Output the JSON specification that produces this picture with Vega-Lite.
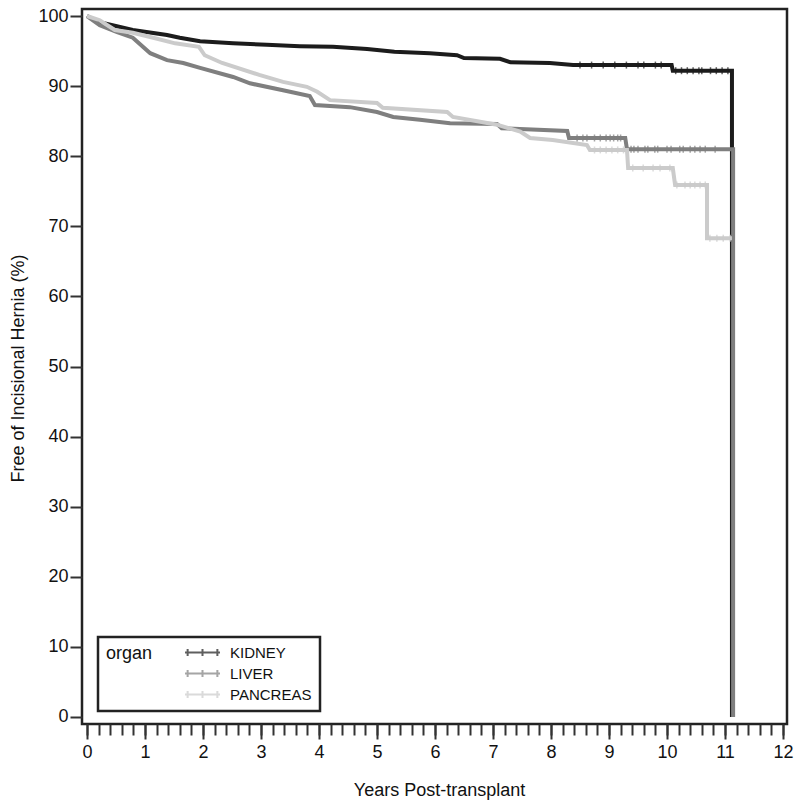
{
  "$schema": "https://vega.github.io/schema/vega-lite/v6.json",
  "autosize": "none",
  "width": 705,
  "height": 715,
  "padding": {"left": 82, "top": 9, "right": 13, "bottom": 83},
  "background": "white",
  "datasets": {
    "curves": [
      {"organ": "KIDNEY", "i": 1, "years": 0, "pct": 100},
      {"organ": "KIDNEY", "i": 2, "years": 0.22, "pct": 99.1},
      {"organ": "KIDNEY", "i": 3, "years": 0.79, "pct": 98.0},
      {"organ": "KIDNEY", "i": 4, "years": 1.38, "pct": 97.3},
      {"organ": "KIDNEY", "i": 5, "years": 1.6, "pct": 96.9},
      {"organ": "KIDNEY", "i": 6, "years": 1.95, "pct": 96.4},
      {"organ": "KIDNEY", "i": 7, "years": 2.52, "pct": 96.1},
      {"organ": "KIDNEY", "i": 8, "years": 3.1, "pct": 95.9},
      {"organ": "KIDNEY", "i": 9, "years": 3.67, "pct": 95.7},
      {"organ": "KIDNEY", "i": 10, "years": 4.24, "pct": 95.6},
      {"organ": "KIDNEY", "i": 11, "years": 4.83, "pct": 95.3},
      {"organ": "KIDNEY", "i": 12, "years": 5.3, "pct": 94.9},
      {"organ": "KIDNEY", "i": 13, "years": 5.91, "pct": 94.7},
      {"organ": "KIDNEY", "i": 14, "years": 6.38, "pct": 94.4},
      {"organ": "KIDNEY", "i": 15, "years": 6.5, "pct": 94.0},
      {"organ": "KIDNEY", "i": 16, "years": 7.12, "pct": 93.9},
      {"organ": "KIDNEY", "i": 17, "years": 7.3, "pct": 93.4},
      {"organ": "KIDNEY", "i": 18, "years": 7.98, "pct": 93.3},
      {"organ": "KIDNEY", "i": 19, "years": 8.38, "pct": 93.0},
      {"organ": "KIDNEY", "i": 20, "years": 10.08, "pct": 93.0},
      {"organ": "KIDNEY", "i": 21, "years": 10.1, "pct": 92.2},
      {"organ": "KIDNEY", "i": 22, "years": 11.12, "pct": 92.2},
      {"organ": "KIDNEY", "i": 23, "years": 11.12, "pct": 0},
      {"organ": "LIVER", "i": 1, "years": 0, "pct": 100},
      {"organ": "LIVER", "i": 2, "years": 0.22, "pct": 98.7},
      {"organ": "LIVER", "i": 3, "years": 0.52, "pct": 97.7},
      {"organ": "LIVER", "i": 4, "years": 0.79, "pct": 96.9},
      {"organ": "LIVER", "i": 5, "years": 1.09, "pct": 94.7},
      {"organ": "LIVER", "i": 6, "years": 1.38, "pct": 93.7},
      {"organ": "LIVER", "i": 7, "years": 1.66, "pct": 93.3},
      {"organ": "LIVER", "i": 8, "years": 1.95, "pct": 92.6},
      {"organ": "LIVER", "i": 9, "years": 2.52, "pct": 91.3},
      {"organ": "LIVER", "i": 10, "years": 2.81, "pct": 90.4},
      {"organ": "LIVER", "i": 11, "years": 3.38, "pct": 89.4},
      {"organ": "LIVER", "i": 12, "years": 3.84, "pct": 88.6},
      {"organ": "LIVER", "i": 13, "years": 3.93, "pct": 87.3},
      {"organ": "LIVER", "i": 14, "years": 4.53, "pct": 87.0},
      {"organ": "LIVER", "i": 15, "years": 5.0, "pct": 86.3},
      {"organ": "LIVER", "i": 16, "years": 5.28, "pct": 85.6},
      {"organ": "LIVER", "i": 17, "years": 5.74, "pct": 85.2},
      {"organ": "LIVER", "i": 18, "years": 6.26, "pct": 84.7},
      {"organ": "LIVER", "i": 19, "years": 7.07, "pct": 84.6},
      {"organ": "LIVER", "i": 20, "years": 7.15, "pct": 84.0},
      {"organ": "LIVER", "i": 21, "years": 8.28, "pct": 83.6},
      {"organ": "LIVER", "i": 22, "years": 8.31, "pct": 82.6},
      {"organ": "LIVER", "i": 23, "years": 9.28, "pct": 82.6},
      {"organ": "LIVER", "i": 24, "years": 9.31, "pct": 81.0},
      {"organ": "LIVER", "i": 25, "years": 11.14, "pct": 81.0},
      {"organ": "LIVER", "i": 26, "years": 11.14, "pct": 0},
      {"organ": "PANCREAS", "i": 1, "years": 0, "pct": 100},
      {"organ": "PANCREAS", "i": 2, "years": 0.22, "pct": 99.4},
      {"organ": "PANCREAS", "i": 3, "years": 0.48, "pct": 98.0},
      {"organ": "PANCREAS", "i": 4, "years": 0.79, "pct": 97.6},
      {"organ": "PANCREAS", "i": 5, "years": 1.09, "pct": 97.0},
      {"organ": "PANCREAS", "i": 6, "years": 1.52, "pct": 96.1},
      {"organ": "PANCREAS", "i": 7, "years": 1.93, "pct": 95.6},
      {"organ": "PANCREAS", "i": 8, "years": 2.03, "pct": 94.4},
      {"organ": "PANCREAS", "i": 9, "years": 2.33, "pct": 93.3},
      {"organ": "PANCREAS", "i": 10, "years": 2.97, "pct": 91.6},
      {"organ": "PANCREAS", "i": 11, "years": 3.38, "pct": 90.6},
      {"organ": "PANCREAS", "i": 12, "years": 3.79, "pct": 89.9},
      {"organ": "PANCREAS", "i": 13, "years": 3.97, "pct": 89.2},
      {"organ": "PANCREAS", "i": 14, "years": 4.19, "pct": 88.0},
      {"organ": "PANCREAS", "i": 15, "years": 5.0, "pct": 87.6},
      {"organ": "PANCREAS", "i": 16, "years": 5.1, "pct": 86.9},
      {"organ": "PANCREAS", "i": 17, "years": 6.21, "pct": 86.3},
      {"organ": "PANCREAS", "i": 18, "years": 6.31, "pct": 85.6},
      {"organ": "PANCREAS", "i": 19, "years": 7.07, "pct": 84.5},
      {"organ": "PANCREAS", "i": 20, "years": 7.47, "pct": 83.5},
      {"organ": "PANCREAS", "i": 21, "years": 7.64, "pct": 82.6},
      {"organ": "PANCREAS", "i": 22, "years": 8.03, "pct": 82.3},
      {"organ": "PANCREAS", "i": 23, "years": 8.62, "pct": 81.6},
      {"organ": "PANCREAS", "i": 24, "years": 8.67, "pct": 80.9},
      {"organ": "PANCREAS", "i": 25, "years": 9.31, "pct": 80.9},
      {"organ": "PANCREAS", "i": 26, "years": 9.33, "pct": 78.3},
      {"organ": "PANCREAS", "i": 27, "years": 10.1, "pct": 78.3},
      {"organ": "PANCREAS", "i": 28, "years": 10.14, "pct": 75.9},
      {"organ": "PANCREAS", "i": 29, "years": 10.69, "pct": 75.9},
      {"organ": "PANCREAS", "i": 30, "years": 10.69, "pct": 68.3},
      {"organ": "PANCREAS", "i": 31, "years": 11.12, "pct": 68.3}
    ],
    "censor": [
      {"organ": "KIDNEY", "years": 8.5, "pct": 93.0},
      {"organ": "KIDNEY", "years": 8.7, "pct": 93.0},
      {"organ": "KIDNEY", "years": 8.9, "pct": 93.0},
      {"organ": "KIDNEY", "years": 9.1, "pct": 93.0},
      {"organ": "KIDNEY", "years": 9.3, "pct": 93.0},
      {"organ": "KIDNEY", "years": 9.5, "pct": 93.0},
      {"organ": "KIDNEY", "years": 9.6, "pct": 93.0},
      {"organ": "KIDNEY", "years": 9.8, "pct": 93.0},
      {"organ": "KIDNEY", "years": 9.9, "pct": 93.0},
      {"organ": "KIDNEY", "years": 10.15, "pct": 92.2},
      {"organ": "KIDNEY", "years": 10.25, "pct": 92.2},
      {"organ": "KIDNEY", "years": 10.35, "pct": 92.2},
      {"organ": "KIDNEY", "years": 10.45, "pct": 92.2},
      {"organ": "KIDNEY", "years": 10.55, "pct": 92.2},
      {"organ": "KIDNEY", "years": 10.6, "pct": 92.2},
      {"organ": "KIDNEY", "years": 10.75, "pct": 92.2},
      {"organ": "KIDNEY", "years": 10.85, "pct": 92.2},
      {"organ": "KIDNEY", "years": 10.95, "pct": 92.2},
      {"organ": "KIDNEY", "years": 11.05, "pct": 92.2},
      {"organ": "LIVER", "years": 8.45, "pct": 82.6},
      {"organ": "LIVER", "years": 8.55, "pct": 82.6},
      {"organ": "LIVER", "years": 8.62, "pct": 82.6},
      {"organ": "LIVER", "years": 8.75, "pct": 82.6},
      {"organ": "LIVER", "years": 8.85, "pct": 82.6},
      {"organ": "LIVER", "years": 8.95, "pct": 82.6},
      {"organ": "LIVER", "years": 9.02, "pct": 82.6},
      {"organ": "LIVER", "years": 9.08, "pct": 82.6},
      {"organ": "LIVER", "years": 9.15, "pct": 82.6},
      {"organ": "LIVER", "years": 9.2, "pct": 82.6},
      {"organ": "LIVER", "years": 9.38, "pct": 81.0},
      {"organ": "LIVER", "years": 9.43, "pct": 81.0},
      {"organ": "LIVER", "years": 9.5, "pct": 81.0},
      {"organ": "LIVER", "years": 9.62, "pct": 81.0},
      {"organ": "LIVER", "years": 9.67, "pct": 81.0},
      {"organ": "LIVER", "years": 9.79, "pct": 81.0},
      {"organ": "LIVER", "years": 9.84, "pct": 81.0},
      {"organ": "LIVER", "years": 10.0, "pct": 81.0},
      {"organ": "LIVER", "years": 10.07, "pct": 81.0},
      {"organ": "LIVER", "years": 10.22, "pct": 81.0},
      {"organ": "LIVER", "years": 10.28, "pct": 81.0},
      {"organ": "LIVER", "years": 10.4, "pct": 81.0},
      {"organ": "LIVER", "years": 10.48, "pct": 81.0},
      {"organ": "LIVER", "years": 10.57, "pct": 81.0},
      {"organ": "LIVER", "years": 10.66, "pct": 81.0},
      {"organ": "LIVER", "years": 10.83, "pct": 81.0},
      {"organ": "PANCREAS", "years": 8.75, "pct": 80.9},
      {"organ": "PANCREAS", "years": 8.85, "pct": 80.9},
      {"organ": "PANCREAS", "years": 8.95, "pct": 80.9},
      {"organ": "PANCREAS", "years": 9.05, "pct": 80.9},
      {"organ": "PANCREAS", "years": 9.15, "pct": 80.9},
      {"organ": "PANCREAS", "years": 9.25, "pct": 80.9},
      {"organ": "PANCREAS", "years": 9.41, "pct": 78.3},
      {"organ": "PANCREAS", "years": 9.59, "pct": 78.3},
      {"organ": "PANCREAS", "years": 9.76, "pct": 78.3},
      {"organ": "PANCREAS", "years": 9.88, "pct": 78.3},
      {"organ": "PANCREAS", "years": 10.05, "pct": 78.3},
      {"organ": "PANCREAS", "years": 10.17, "pct": 75.9},
      {"organ": "PANCREAS", "years": 10.31, "pct": 75.9},
      {"organ": "PANCREAS", "years": 10.4, "pct": 75.9},
      {"organ": "PANCREAS", "years": 10.48, "pct": 75.9},
      {"organ": "PANCREAS", "years": 10.57, "pct": 75.9},
      {"organ": "PANCREAS", "years": 10.66, "pct": 75.9},
      {"organ": "PANCREAS", "years": 10.74, "pct": 68.3},
      {"organ": "PANCREAS", "years": 10.86, "pct": 68.3},
      {"organ": "PANCREAS", "years": 10.97, "pct": 68.3},
      {"organ": "PANCREAS", "years": 11.09, "pct": 68.3}
    ]
  },
  "resolve": {"axis": {"x": "independent"}},
  "layer": [
    {
      "data": {"name": "curves"},
      "mark": {"type": "line", "strokeWidth": 4},
      "encoding": {
        "x": {"field": "years", "type": "quantitative", "scale": {"domain": [-0.086, 12.069], "nice": false, "zero": false},
          "axis": {"orient": "bottom", "values": [0,1,2,3,4,5,6,7,8,9,10,11,12], "tickSize": 15, "labelPadding": 4, "title": "Years Post-transplant", "titleX": 357, "titleY": 71, "titleBaseline": "alphabetic", "titleAnchor": null}},
        "y": {"field": "pct", "type": "quantitative", "scale": {"domain": [-1, 101], "nice": false, "zero": false},
          "axis": {"values": [0,10,20,30,40,50,60,70,80,90,100], "tickSize": 12, "labelPadding": 2, "title": "Free of Incisional Hernia (%)", "titleX": -64, "titleY": 359, "titleAngle": 270, "titleBaseline": "middle", "titleAlign": "center"}},
        "color": {"field": "organ", "type": "nominal",
          "scale": {"domain": ["KIDNEY", "LIVER", "PANCREAS"], "range": ["#1c1c1c", "#7f7f7f", "#cbcbcb"]},
          "legend": {"title": "organ", "orient": "none", "legendX": 16, "legendY": 628, "direction": "vertical", "titleOrient": "left", "titleAnchor": "start", "titleBaseline": "top", "titlePadding": 42, "titleFontSize": 18, "titleFontWeight": "normal", "titleColor": "#111", "labelFontSize": 15, "labelColor": "#111", "labelOffset": 20, "rowPadding": 5, "padding": 8, "strokeColor": "#222", "fillColor": "white", "symbolType": "M-3,0H3M-2.55,-0.6V0.6M0,-0.6V0.6M2.55,-0.6V0.6", "symbolSize": 136, "symbolStrokeWidth": 2, "symbolOpacity": 1}},
        "order": {"field": "i", "type": "quantitative"}
      }
    },
    {
      "data": {"name": "censor"},
      "mark": {"type": "tick", "orient": "vertical", "size": 7, "thickness": 1.5},
      "encoding": {
        "x": {"field": "years", "type": "quantitative",
          "axis": {"orient": "bottom", "values": [0,0.2,0.4,0.6,0.8,1,1.2,1.4,1.6,1.8,2,2.2,2.4,2.6,2.8,3,3.2,3.4,3.6,3.8,4,4.2,4.4,4.6,4.8,5,5.2,5.4,5.6,5.8,6,6.2,6.4,6.6,6.8,7,7.2,7.4,7.6,7.8,8,8.2,8.4,8.6,8.8,9,9.2,9.4,9.6,9.8,10,10.2,10.4,10.6,10.8,11,11.2,11.4,11.6,11.8,12], "labels": false, "title": null, "tickSize": 11}},
        "y": {"field": "pct", "type": "quantitative"},
        "color": {"field": "organ", "type": "nominal"}
      }
    }
  ],
  "config": {
    "font": "Liberation Sans",
    "view": {"stroke": "#222", "strokeWidth": 2.5},
    "legend": {"strokeWidth": 2.5},
    "axis": {"domain": false, "grid": false, "tickColor": "#333", "tickWidth": 2, "labelColor": "#111", "titleColor": "#111", "labelFontSize": 18, "titleFontSize": 18, "titleFontWeight": "normal"}
  }
}
